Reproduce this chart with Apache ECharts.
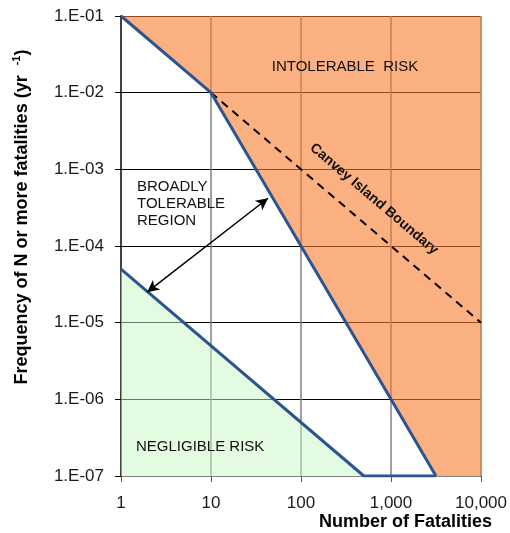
<!DOCTYPE html>
<html>
<head>
<meta charset="utf-8">
<script src="https://cdn.jsdelivr.net/npm/echarts@6/dist/echarts.min.js"></script>
<style>
  html, body { margin: 0; padding: 0; background: #fff; }
  #chart { width: 510px; height: 533px; }
</style>
</head>
<body>
<div id="chart"></div>
<script>
// F-N criteria lines (N fatalities, frequency per year)
const upperLimit = [[1, 1e-1], [10, 1e-2], [1000, 1e-6], [3162, 1e-7]]
const intolerableArea = [[1, 1e-1], [10, 1e-2], [1000, 1e-6], [3162, 1e-7], [10000, 1e-7]]
const lowerLimit = [[1, 5e-5], [500, 1e-7], [3162, 1e-7]]
const negligibleArea = [[1, 5e-5], [500, 1e-7]]
const canveyBoundary = [[10, 1e-2], [10000, 1e-5]]
const arrowEnds = [[1.95, 2.5e-5], [43, 4.2e-4]]

const xTickLabels = { 1: '1', 10: '10', 100: '100', 1000: '1,000', 10000: '10,000' }
const yTickLabel = (v) => {
  let e = Math.round(Math.log10(v))
  return '1.E-' + (Math.abs(e) < 10 ? '0' : '') + Math.abs(e)
}

const font = "'Liberation Sans', Arial, sans-serif"
const blue = '#2c5491'

const chart = echarts.init(document.getElementById('chart'))

const option = {
  animation: false,
  grid: { left: 121, right: 29, top: 16, bottom: 57 },
  xAxis: {
    type: 'log',
    logBase: 10,
    min: 1,
    max: 10000,
    splitNumber: 4,
    axisLine: { lineStyle: { color: '#808080', width: 1 } },
    axisTick: { length: 6, lineStyle: { color: '#555' } },
    axisLabel: {
      margin: 19,
      fontSize: 17,
      fontFamily: font,
      color: '#1a1a1a',
      formatter: (v) => xTickLabels[Math.round(v)] || ''
    },
    splitLine: { show: true, lineStyle: { color: '#7f7f7f', width: 1.5 } },
    minorTick: { show: false }
  },
  yAxis: {
    type: 'log',
    logBase: 10,
    min: 1e-7,
    max: 1e-1,
    splitNumber: 6,
    axisLine: { show: true, lineStyle: { color: '#404040', width: 2 } },
    axisTick: { show: true, length: 6, lineStyle: { color: '#000' } },
    axisLabel: {
      margin: 17,
      fontSize: 17,
      fontFamily: font,
      color: '#1a1a1a',
      formatter: yTickLabel
    },
    splitLine: { show: true, lineStyle: { color: '#000', width: 1 } }
  },
  series: [
    {
      // intolerable region
      type: 'line',
      data: intolerableArea,
      symbol: 'none',
      lineStyle: { width: 0 },
      areaStyle: { origin: 'end', color: 'rgba(247,123,43,0.6)', opacity: 1 },
      z: 2
    },
    {
      // negligible region
      type: 'line',
      data: negligibleArea,
      symbol: 'none',
      lineStyle: { width: 0 },
      areaStyle: { origin: 'start', color: 'rgba(199,247,193,0.5)', opacity: 1 },
      z: 2
    },
    {
      type: 'line',
      data: canveyBoundary,
      symbol: 'none',
      lineStyle: { color: '#000', width: 2, type: [8, 6] },
      z: 3
    },
    {
      type: 'line',
      data: upperLimit,
      symbol: 'none',
      lineStyle: { color: blue, width: 3 },
      z: 4
    },
    {
      type: 'line',
      data: lowerLimit,
      symbol: 'none',
      lineStyle: { color: blue, width: 3 },
      z: 4,
      markLine: {
        silent: true,
        symbol: ['arrow', 'arrow'],
        symbolSize: [9, 12],
        label: { show: false },
        lineStyle: { color: '#000', width: 1.5, type: 'solid' },
        data: [[{ coord: arrowEnds[0] }, { coord: arrowEnds[1] }]]
      }
    }
  ],
  graphic: [
    {
      type: 'text',
      x: 22,
      y: 217,
      rotation: Math.PI / 2,
      style: {
        text: '{a|Frequency of N or more fatalities (yr  }{s|-1}{a|)}',
        align: 'center',
        verticalAlign: 'middle',
        fill: '#000',
        rich: {
          a: { fontSize: 18, fontWeight: 'bold', fontFamily: font, lineHeight: 22 },
          s: { fontSize: 11, fontWeight: 'bold', fontFamily: font, lineHeight: 22, verticalAlign: 'top' }
        }
      }
    },
    {
      type: 'text',
      x: 492,
      y: 522,
      style: {
        text: 'Number of Fatalities',
        align: 'right',
        verticalAlign: 'middle',
        font: 'bold 18px ' + font,
        fill: '#000'
      }
    },
    {
      type: 'text',
      x: 345,
      y: 67,
      z: 10,
      style: {
        text: 'INTOLERABLE  RISK',
        align: 'center',
        verticalAlign: 'middle',
        font: '15px ' + font,
        fill: '#111'
      }
    },
    {
      type: 'text',
      x: 137,
      y: 204,
      z: 10,
      style: {
        text: 'BROADLY\nTOLERABLE\nREGION',
        align: 'left',
        verticalAlign: 'middle',
        font: '15px ' + font,
        lineHeight: 17,
        fill: '#111'
      }
    },
    {
      type: 'text',
      x: 136,
      y: 447,
      z: 10,
      style: {
        text: 'NEGLIGIBLE RISK',
        align: 'left',
        verticalAlign: 'middle',
        font: '15px ' + font,
        fill: '#111'
      }
    },
    {
      type: 'text',
      x: 374,
      y: 199,
      z: 10,
      rotation: -0.705,
      style: {
        text: 'Canvey Island Boundary',
        align: 'center',
        verticalAlign: 'middle',
        font: 'bold 14px ' + font,
        fill: '#111'
      }
    }
  ]
}

chart.setOption(option)
</script>
</body>
</html>
